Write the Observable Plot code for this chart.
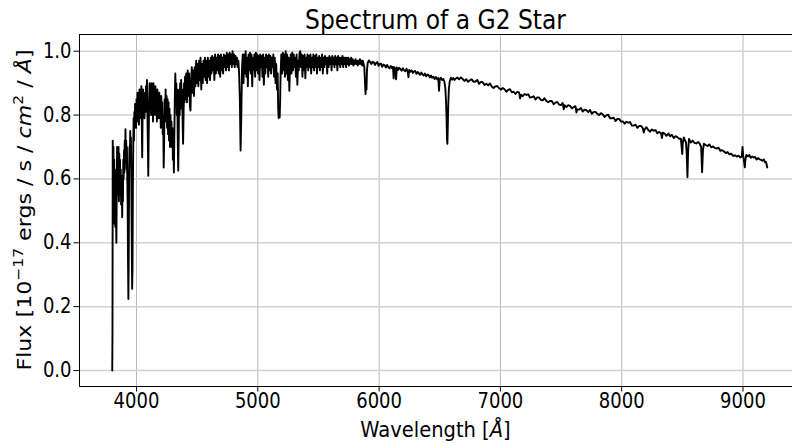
<!DOCTYPE html>
<html><head><meta charset="utf-8">
<script src="https://cdn.jsdelivr.net/npm/d3@7"></script>
<script src="https://cdn.jsdelivr.net/npm/@observablehq/plot@0.6"></script>
<style>body{margin:0;background:#fff;overflow:hidden} svg{display:block}</style>
</head><body><div id="chart"></div>
<script>
const chartTitle = "Spectrum of a G2 Star";
const xTicks = [4000, 5000, 6000, 7000, 8000, 9000];
const yTicks = [0, 0.2, 0.4, 0.6, 0.8, 1.0];

// [wavelength (Å), flux]
const violetSegment = [[3800,0.0],[3802,0.12],[3804,0.72],[3807,0.50],[3810,0.70],[3813,0.46],[3816,0.66],[3819,0.52],[3822,0.63],[3825,0.45],[3828,0.58],[3831,0.48],[3834,0.40],[3837,0.56],[3840,0.70],[3843,0.55],[3846,0.69],[3849,0.58],[3852,0.70],[3855,0.53],[3858,0.68],[3861,0.60],[3864,0.66],[3867,0.55],[3870,0.63],[3873,0.52],[3876,0.61],[3879,0.55],[3882,0.48],[3885,0.60],[3888,0.53],[3891,0.66],[3894,0.60],[3897,0.69],[3900,0.62],[3903,0.72],[3906,0.65],[3909,0.756],[3912,0.67],[3915,0.72],[3918,0.63],[3921,0.70],[3924,0.60],[3927,0.52],[3930,0.34],[3933,0.224],[3936,0.36],[3939,0.62],[3942,0.70],[3945,0.65],[3948,0.75],[3951,0.68],[3954,0.73],[3957,0.60],[3960,0.44],[3964,0.256],[3967,0.32],[3970,0.56],[3973,0.70],[3976,0.79],[3979,0.72],[3982,0.81],[3985,0.76],[3988,0.835],[3991,0.78],[3994,0.83],[3997,0.76]];

const blueSegment = [[4000,0.85],[4004,0.78],[4008,0.87],[4012,0.80],[4016,0.86],[4020,0.77],[4024,0.88],[4028,0.81],[4032,0.87],[4036,0.79],[4040,0.89],[4044,0.76],[4047,0.668],[4050,0.80],[4054,0.88],[4058,0.82],[4062,0.86],[4066,0.79],[4070,0.87],[4074,0.81],[4078,0.89],[4082,0.83],[4086,0.91],[4090,0.80],[4094,0.70],[4097,0.61],[4100,0.72],[4104,0.84],[4108,0.90],[4112,0.82],[4116,0.89],[4120,0.80],[4124,0.90],[4128,0.83],[4132,0.88],[4136,0.78],[4140,0.90],[4144,0.82],[4148,0.88],[4152,0.80],[4156,0.89],[4160,0.81],[4164,0.87],[4168,0.78],[4172,0.88],[4176,0.82],[4180,0.86],[4184,0.79],[4188,0.87],[4192,0.80],[4196,0.85],[4200,0.76],[4204,0.86],[4208,0.80],[4212,0.84],[4216,0.74],[4220,0.80],[4224,0.636],[4228,0.72],[4232,0.85],[4236,0.78],[4240,0.88],[4244,0.80],[4248,0.86],[4252,0.76],[4256,0.85],[4260,0.74],[4264,0.84],[4268,0.72],[4272,0.82],[4276,0.70],[4280,0.80],[4284,0.74],[4288,0.78],[4292,0.70],[4296,0.76],[4300,0.66],[4304,0.72],[4308,0.62],[4312,0.74],[4316,0.86],[4320,0.93],[4324,0.84],[4328,0.90],[4332,0.80],[4336,0.88],[4340,0.72],[4344,0.626],[4348,0.74],[4352,0.88],[4356,0.80],[4360,0.90],[4364,0.82],[4368,0.91],[4372,0.84],[4376,0.88],[4380,0.78],[4384,0.71],[4388,0.80],[4392,0.90],[4396,0.84],[4400,0.92]];

const cyanSegment = [[4404,0.85],[4410,0.93],[4416,0.84],[4422,0.94],[4428,0.86],[4434,0.93],[4440,0.83],[4445,0.814],[4450,0.90],[4456,0.95],[4462,0.87],[4468,0.94],[4474,0.86],[4480,0.95],[4486,0.89],[4492,0.97],[4498,0.90],[4504,0.96],[4510,0.89],[4516,0.97],[4522,0.91],[4528,0.98],[4534,0.88],[4540,0.96],[4546,0.90],[4552,0.97],[4558,0.92],[4564,0.98],[4570,0.91],[4576,0.97],[4582,0.90],[4588,0.98],[4594,0.92],[4600,0.97],[4606,0.91],[4612,0.98],[4618,0.93],[4624,0.985],[4630,0.94],[4636,0.98],[4642,0.91],[4648,0.99],[4654,0.93],[4660,0.98],[4666,0.94],[4672,0.99],[4678,0.93],[4684,0.985],[4690,0.92],[4696,0.99],[4702,0.94],[4708,0.98],[4714,0.93],[4720,0.99],[4726,0.95],[4732,0.985],[4738,0.94],[4744,0.995],[4750,0.95],[4756,0.99],[4762,0.94],[4768,0.995],[4774,0.96],[4780,0.99],[4786,0.95],[4792,1.0],[4798,0.96],[4804,0.99],[4810,0.95],[4816,0.985],[4822,0.96],[4828,0.98],[4834,0.95],[4840,0.97],[4846,0.93],[4852,0.85],[4858,0.689],[4864,0.80],[4870,0.95],[4876,0.99],[4882,0.90],[4888,0.99],[4894,0.93],[4900,1.0],[4906,0.92],[4912,0.98],[4918,0.89],[4924,0.99],[4930,0.94],[4936,0.995],[4942,0.93],[4948,0.99],[4954,0.89],[4960,0.98],[4966,0.94],[4972,0.99],[4978,0.92],[4984,0.995],[4990,0.94],[4996,0.99]];

const greenSegment = [[5002,0.93],[5008,0.985],[5014,0.91],[5020,0.99],[5026,0.95],[5032,0.985],[5038,0.92],[5044,0.99],[5050,0.895],[5056,0.98],[5062,0.93],[5068,0.99],[5074,0.95],[5080,0.985],[5086,0.92],[5092,0.99],[5098,0.94],[5104,0.985],[5110,0.93],[5116,0.98],[5122,0.95],[5128,0.99],[5134,0.92],[5140,0.98],[5146,0.90],[5152,0.96],[5158,0.88],[5164,0.93],[5168,0.82],[5172,0.791],[5176,0.80],[5180,0.792],[5184,0.84],[5188,0.93],[5194,0.99],[5200,0.93],[5206,0.995],[5212,0.94],[5218,0.99],[5224,0.92],[5230,1.0],[5236,0.93],[5242,0.99],[5248,0.91],[5254,0.98],[5260,0.876],[5266,0.96],[5272,0.99],[5278,0.93],[5284,0.995],[5290,0.94],[5296,0.99],[5302,0.95],[5308,0.98],[5314,0.92],[5320,0.99],[5326,0.895],[5332,0.97],[5338,0.94],[5344,0.995],[5350,1.0],[5356,0.95],[5362,0.99],[5368,0.92],[5374,0.985],[5380,0.94],[5386,0.99],[5392,0.915],[5398,0.98],[5404,0.95],[5410,0.99],[5416,0.94],[5422,0.985],[5428,0.95],[5434,0.99],[5440,0.93],[5446,0.98],[5452,0.95],[5458,0.99],[5464,0.94],[5470,0.985],[5476,0.95],[5482,0.99],[5488,0.93],[5494,0.98],[5500,0.95],[5506,0.985],[5512,0.94],[5518,0.98],[5524,0.95],[5530,0.99],[5536,0.93],[5542,0.98],[5548,0.95],[5554,0.985],[5560,0.96],[5566,0.98],[5572,0.93],[5578,0.98],[5584,0.95],[5590,0.985],[5596,0.96],[5602,0.98],[5608,0.94],[5614,0.985],[5620,0.96],[5626,0.98],[5632,0.95],[5638,0.985],[5644,0.96],[5650,0.98],[5656,0.94],[5662,0.985],[5668,0.96],[5674,0.98],[5680,0.95],[5686,0.98],[5692,0.96],[5698,0.985],[5704,0.95],[5710,0.98],[5716,0.96],[5722,0.98],[5728,0.95],[5734,0.98],[5740,0.96],[5746,0.98],[5752,0.955],[5758,0.975],[5764,0.96],[5770,0.98],[5776,0.96],[5782,0.975],[5788,0.955],[5794,0.97],[5800,0.96],[5806,0.975],[5812,0.96],[5818,0.97],[5824,0.955],[5830,0.97],[5836,0.96],[5842,0.975],[5848,0.96],[5854,0.97],[5860,0.955],[5866,0.97],[5872,0.96],[5878,0.95],[5884,0.90],[5888,0.866],[5892,0.90],[5896,0.88],[5900,0.94]];

const orangeSegment = [[5906,0.963],[5916,0.971],[5926,0.966],[5936,0.960],[5946,0.967],[5956,0.965],[5966,0.957],[5976,0.963],[5986,0.966],[5996,0.954],[6006,0.960],[6016,0.961],[6026,0.951],[6036,0.958],[6046,0.956],[6056,0.949],[6066,0.957],[6076,0.950],[6086,0.946],[6096,0.954],[6106,0.947],[6114,0.951],[6120,0.915],[6126,0.950],[6134,0.943],[6140,0.912],[6146,0.949],[6156,0.941],[6166,0.948],[6176,0.944],[6186,0.939],[6196,0.947],[6206,0.940],[6216,0.937],[6226,0.945],[6236,0.936],[6242,0.918],[6248,0.941],[6258,0.936],[6268,0.940],[6278,0.932],[6288,0.937],[6298,0.938],[6308,0.929],[6318,0.935],[6328,0.931],[6338,0.926],[6348,0.933],[6358,0.927],[6368,0.924],[6378,0.930],[6388,0.921],[6398,0.927],[6408,0.925],[6418,0.918],[6428,0.924],[6438,0.917],[6448,0.920],[6458,0.913],[6468,0.919],[6478,0.912],[6488,0.916],[6494,0.876],[6500,0.911],[6510,0.917],[6520,0.910],[6530,0.913],[6538,0.905],[6546,0.885],[6552,0.84],[6556,0.79],[6560,0.72],[6563,0.71],[6566,0.76],[6570,0.83],[6575,0.88],[6582,0.905],[6592,0.917],[6602,0.911],[6612,0.916],[6622,0.910],[6632,0.914]];

const redSegment = [[6644,0.918],[6659,0.912],[6674,0.918],[6689,0.913],[6704,0.907],[6719,0.912],[6734,0.904],[6749,0.909],[6764,0.912],[6779,0.904],[6794,0.905],[6809,0.910],[6824,0.898],[6839,0.904],[6854,0.903],[6869,0.894],[6884,0.898],[6899,0.893],[6914,0.899],[6929,0.889],[6944,0.885],[6959,0.890],[6974,0.891],[6989,0.884],[7004,0.880],[7019,0.885],[7034,0.881],[7049,0.873],[7064,0.879],[7079,0.881],[7094,0.871],[7109,0.873],[7124,0.866],[7139,0.873],[7154,0.870],[7162,0.852],[7169,0.864],[7184,0.859],[7199,0.866],[7214,0.863],[7229,0.865],[7244,0.855],[7259,0.856],[7274,0.859],[7289,0.849],[7304,0.855],[7319,0.855],[7334,0.847],[7349,0.846],[7364,0.853],[7379,0.844],[7394,0.840],[7409,0.844],[7424,0.844],[7439,0.834],[7454,0.839],[7469,0.841],[7484,0.833],[7499,0.831],[7514,0.838],[7522,0.818],[7529,0.831],[7544,0.825],[7559,0.831],[7574,0.829],[7589,0.821],[7604,0.825],[7619,0.828],[7627,0.808],[7634,0.818],[7649,0.817],[7664,0.822],[7679,0.811],[7694,0.817],[7709,0.815],[7724,0.809],[7739,0.816],[7754,0.804],[7769,0.810],[7784,0.810],[7799,0.804],[7814,0.800],[7829,0.806],[7844,0.802],[7859,0.794],[7874,0.799],[7889,0.801],[7904,0.790],[7919,0.790],[7934,0.792],[7949,0.781],[7964,0.788],[7979,0.788],[7994,0.780],[8009,0.780],[8024,0.773],[8039,0.779],[8054,0.776],[8069,0.778],[8084,0.767],[8099,0.767],[8114,0.770],[8129,0.760],[8144,0.766],[8159,0.766],[8174,0.759],[8182,0.745],[8189,0.755],[8204,0.762],[8219,0.753],[8234,0.748],[8249,0.755],[8264,0.751],[8279,0.753],[8294,0.743],[8309,0.747],[8324,0.743],[8332,0.728],[8339,0.745],[8354,0.742],[8369,0.735],[8384,0.742],[8399,0.734],[8414,0.738],[8429,0.728],[8444,0.734],[8459,0.731],[8474,0.726],[8488,0.726],[8494,0.700],[8499,0.678],[8504,0.715],[8512,0.730],[8520,0.722],[8530,0.715],[8536,0.680],[8542,0.605],[8548,0.690],[8555,0.725],[8570,0.714],[8585,0.720],[8600,0.713],[8615,0.711],[8630,0.716],[8645,0.709],[8655,0.700],[8663,0.621],[8670,0.690],[8678,0.710],[8693,0.706],[8708,0.703],[8723,0.708],[8738,0.699],[8753,0.702],[8768,0.697],[8783,0.695],[8798,0.698],[8813,0.688],[8828,0.690],[8843,0.686],[8858,0.681],[8873,0.684],[8888,0.677],[8903,0.679],[8918,0.672],[8933,0.674],[8948,0.670],[8963,0.673],[8978,0.667],[8990,0.670],[8996,0.700],[9002,0.672],[9010,0.650],[9015,0.636],[9020,0.660],[9028,0.675],[9040,0.671],[9052,0.675],[9064,0.666],[9076,0.670],[9088,0.667],[9100,0.669],[9112,0.661],[9124,0.665],[9136,0.662],[9148,0.660],[9160,0.657],[9172,0.661],[9182,0.652],[9190,0.653],[9196,0.643],[9200,0.636]];

const spectrum = [...violetSegment, ...blueSegment, ...cyanSegment, ...greenSegment, ...orangeSegment, ...redSegment]
  .map(([wavelength, flux]) => ({wavelength, flux}));

const xDomain = [3530, 9470];
const yDomain = [-0.0501, 1.0523];
const FONT = "DejaVu Sans, sans-serif";
const STRETCH = 1.13; // glyphs in the reference are a little taller than wide

const chart = Plot.plot({
  width: 792,
  height: 443,
  marginLeft: 79,
  marginRight: 0,
  marginTop: 34,
  marginBottom: 57,
  style: {fontFamily: FONT, fontSize: "18px", color: "black", background: "white"},
  x: {domain: xDomain, range: [79, 799.5]},
  y: {domain: yDomain},
  marks: [
    Plot.gridX(xTicks, {stroke: "#b8b8b8", strokeOpacity: 1, strokeWidth: 1}),
    Plot.gridY(yTicks, {stroke: "#d2d2d2", strokeOpacity: 1, strokeWidth: 1.5}),
    Plot.line(spectrum, {x: "wavelength", y: "flux", stroke: "black", strokeWidth: 1.9}),
    Plot.ruleX([xDomain[0]], {stroke: "black", strokeWidth: 1}),
    Plot.ruleY([yDomain[0]], {stroke: "black", strokeWidth: 1}),
    Plot.ruleY([yDomain[1]], {stroke: "black", strokeWidth: 1}),
    Plot.axisX(xTicks, {tickSize: 5.5, tickPadding: 2, tickFormat: d => String(d), label: null, fontSize: 18}),
    Plot.axisY(yTicks, {tickSize: 5.5, tickPadding: 2.5, tickFormat: d3.format(".1f"), label: null, fontSize: 18})
  ]
});
document.getElementById("chart").appendChild(chart);

const svg = d3.select(chart);
// stretch tick labels vertically around their anchor point
svg.selectAll("text").each(function() {
  const t = this.getAttribute("transform") || "";
  this.setAttribute("transform", `${t} scale(1,${STRETCH})`);
});

svg.append("text")
  .attr("transform", `translate(435.5,28.5) scale(1,${STRETCH})`)
  .attr("text-anchor", "middle")
  .attr("font-family", FONT).attr("font-size", 23.4).attr("fill", "black")
  .text(chartTitle);

const xl = svg.append("text")
  .attr("transform", `translate(435.5,436.5) scale(1,${STRETCH})`)
  .attr("text-anchor", "middle")
  .attr("font-family", FONT).attr("font-size", 19.5).attr("fill", "black");
xl.append("tspan").text("Wavelength [");
xl.append("tspan").attr("font-style", "italic").text("Å");
xl.append("tspan").text("]");

const yl = svg.append("text")
  .attr("transform", `translate(31,210) rotate(-90) scale(${STRETCH},1)`)
  .attr("text-anchor", "middle")
  .attr("font-family", FONT).attr("font-size", 19.6).attr("fill", "black")
  .style("white-space", "pre");
yl.append("tspan").text("Flux [10");
yl.append("tspan").attr("font-size", 13.7).attr("dy", -8).text("−17");
yl.append("tspan").attr("dy", 8).text(" ergs / s / ");
yl.append("tspan").attr("font-style", "italic").text("cm");
yl.append("tspan").attr("font-size", 13.7).attr("dy", -8).text("2");
yl.append("tspan").attr("dy", 8).text(" / ");
yl.append("tspan").attr("font-style", "italic").text("Å");
yl.append("tspan").text("]");
</script>
</body></html>
